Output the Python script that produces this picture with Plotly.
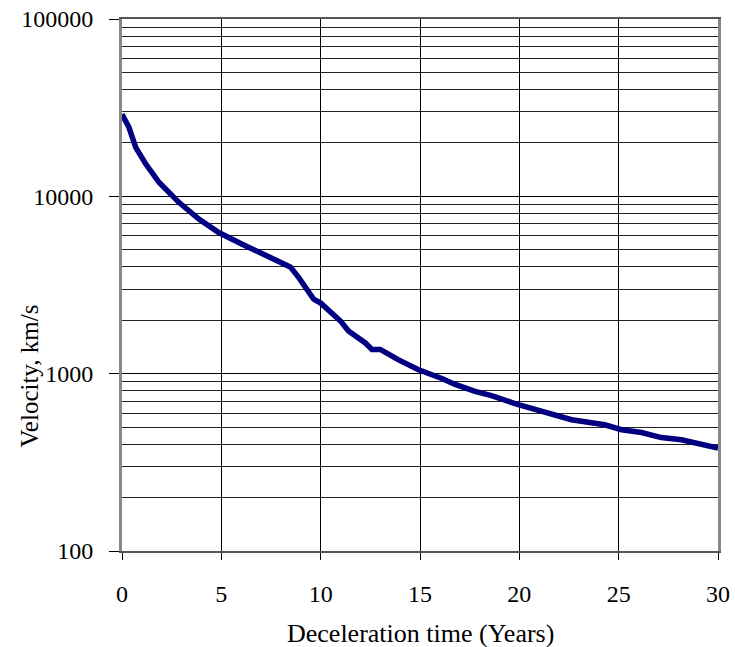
import plotly.graph_objects as go

# Data
time_years = [0.0, 0.35, 0.69, 1.19, 1.86, 2.86, 3.87, 4.87, 6.05, 7.05, 8.22, 8.47,
              8.9, 9.65, 10.0, 11.0, 11.4, 12.25, 12.58, 13.0, 13.9, 14.9, 16.1, 16.77,
              17.77, 18.6, 19.95, 21.46, 22.63, 24.3, 25.14, 26.15, 27.15, 28.16, 29.16, 30.0]
velocity = [29000, 24500, 18900, 15250, 12000, 9250, 7450, 6250, 5370, 4720, 4140, 4000,
            3480, 2630, 2500, 1980, 1740, 1490, 1370, 1370, 1200, 1055, 940, 870,
            795, 752, 668, 599, 550, 515, 483, 466, 436, 424, 397, 380]

x_ticks = [0, 5, 10, 15, 20, 25, 30]
y_ticks = [100, 1000, 10000, 100000]
y_tick_text = ["100", "1000", "10000", "100000"]

FONT = "Liberation Serif"

fig = go.Figure()
fig.add_trace(go.Scatter(
    x=time_years, y=velocity, mode="lines",
    line=dict(color="#000080", width=5.5),
    showlegend=False,
))

fig.update_layout(
    width=735, height=647,
    margin=dict(l=122, r=17, t=19, b=96),
    paper_bgcolor="white", plot_bgcolor="white",
    font=dict(family=FONT, size=24, color="black"),
    xaxis=dict(
        range=[0, 30], tickvals=x_ticks, showgrid=True, gridcolor="black", gridwidth=1,
        zeroline=False, showline=True, linecolor="#555555", linewidth=2, mirror=True,
        ticks="outside", ticklen=7, tickcolor="black", tickfont=dict(size=24),
        ticklabelstandoff=13, automargin=False,
    ),
    yaxis=dict(
        type="log", range=[2, 5], tickvals=y_ticks, ticktext=y_tick_text,
        showgrid=True, gridcolor="black", gridwidth=1,
        minor=dict(dtick="D1", showgrid=True, gridcolor="#222222", gridwidth=1, ticks=""),
        zeroline=False, showline=True, linecolor="#888888", linewidth=3, mirror=True,
        ticks="outside", ticklen=10, tickcolor="black", tickfont=dict(size=24),
        ticklabelstandoff=11, automargin=False,
    ),
    annotations=[
        dict(
            text="Velocity, km/s", textangle=-90, xref="paper", yref="paper",
            x=-0.156, y=0.19, xanchor="center", yanchor="bottom", showarrow=False,
            font=dict(family=FONT, size=25, color="black"),
        ),
        dict(
            text="Deceleration time (Years)", xref="paper", yref="paper",
            x=0.5, y=-0.124, xanchor="center", yanchor="top", showarrow=False,
            font=dict(family=FONT, size=26, color="black"),
        ),
    ],
)

fig.write_html("out.html")
